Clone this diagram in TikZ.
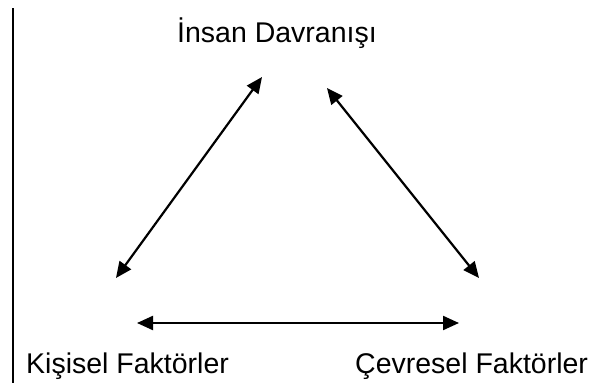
\documentclass[tikz,border=0pt]{standalone}
\usepackage{fontspec}
\setmainfont{Liberation Sans}
\usetikzlibrary{arrows.meta}

\begin{document}
\begin{tikzpicture}[x=1pt, y=-1pt,
    label text/.style={anchor=base west, inner sep=0pt, font=\fontsize{28.5}{34}\selectfont},
    both way/.style={{Triangle[length=16pt, width=14pt]}-{Triangle[length=16pt, width=14pt]}, line width=2.2pt}]
  \useasboundingbox (0,0) rectangle (590,383);
  % Left rule
  \draw[line width=2.4pt] (13,8) -- (13,383);
  % Labels
  \node[label text] (davranis) at (177,42) {İnsan Davranışı};
  \node[label text] (kisisel) at (26,373) {Kişisel Faktörler};
  \node[label text] (cevresel) at (355,373) {Çevresel Faktörler};
  % Arrow ends
  \coordinate (top left) at (262,77);
  \coordinate (top right) at (327,88);
  \coordinate (left low) at (116,278);
  \coordinate (right low) at (479,278);
  \coordinate (base left) at (137,323);
  \coordinate (base right) at (459,323);
  % Arrows
  \draw[both way] (left low) -- (top left);
  \draw[both way] (top right) -- (right low);
  \draw[both way] (base left) -- (base right);
\end{tikzpicture}
\end{document}
